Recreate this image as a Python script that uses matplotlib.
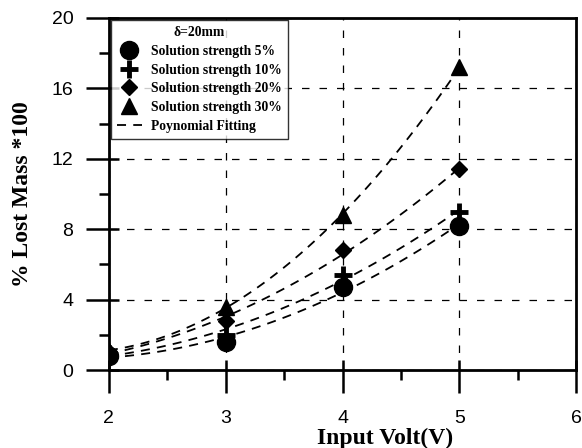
import matplotlib
matplotlib.use("Agg")
import matplotlib.pyplot as plt
from matplotlib.ticker import MultipleLocator, NullLocator
import numpy as np

# input voltage and lost mass for each solution strength
volt = [2, 3, 4, 5]
lost_5 = [0.8, 1.6, 4.7, 8.2]
lost_10 = [0.9, 2.0, 5.4, 9.0]
lost_20 = [1.0, 2.8, 6.8, 11.4]
lost_30 = [1.1, 3.6, 8.8, 17.2]

labels = ["Solution strength 5%", "Solution strength 10%",
          "Solution strength 20%", "Solution strength 30%"]
markers = ["o", "+", "D", "^"]
msizes = [13, 13, 8.5, 11]

serif = "Liberation Serif"
sans = "Liberation Sans"

fig = plt.figure(figsize=(5.82, 4.48), dpi=100)
ax = fig.add_axes([0.187, 0.174, 0.803, 0.786])

xs = np.linspace(2, 5, 100)
for ys, lab, m, s in zip([lost_5, lost_10, lost_20, lost_30], labels, markers, msizes):
    ax.plot(volt, ys, linestyle="none", marker=m, ms=s, mew=3.5 if m == "+" else 1,
            color="black", label=lab, zorder=3)
    # second order polynomial fit through the measured points
    c = np.polyfit(volt, ys, 2)
    ax.plot(xs, np.polyval(c, xs), "--", color="black", lw=1.3, dashes=(5, 4), zorder=2)
ax.plot([], [], "--", color="black", lw=1.3, dashes=(5, 4), label="Poynomial Fitting")

ax.set_xlim(2, 6)
ax.set_ylim(0, 20)
ax.xaxis.set_major_locator(MultipleLocator(1))
ax.xaxis.set_minor_locator(MultipleLocator(0.5))
ax.yaxis.set_major_locator(MultipleLocator(4))
ax.yaxis.set_minor_locator(MultipleLocator(2))
ax.tick_params(which="major", direction="out", length=16.5, width=1.8, labelsize=14)
ax.tick_params(axis="y", which="major", pad=9)
ax.tick_params(axis="x", which="major", pad=12)
ax.tick_params(which="minor", direction="out", length=7.5, width=1.8)
for t in ax.get_xticklabels() + ax.get_yticklabels():
    t.set_fontfamily(sans)

# short inner part of the major ticks
sx = ax.secondary_xaxis("bottom")
sx.set_xticks([2, 3, 4, 5, 6])
sx.xaxis.set_minor_locator(NullLocator())
sx.tick_params(direction="in", length=7.5, width=1.8, labelbottom=False)
sx.spines["bottom"].set_visible(False)
sy = ax.secondary_yaxis("left")
sy.set_yticks([0, 4, 8, 12, 16, 20])
sy.yaxis.set_minor_locator(NullLocator())
sy.tick_params(direction="in", length=7.5, width=1.8, labelleft=False)
sy.spines["left"].set_visible(False)

ax.grid(True, which="major", linestyle=(0, (6, 8)), color="black", lw=0.9)
for sp in ax.spines.values():
    sp.set_linewidth(2)

ax.set_xlabel("Input Volt(V)", fontfamily=serif, fontweight="bold", fontsize=17)
ax.set_ylabel("% Lost Mass *100", fontfamily=serif, fontweight="bold", fontsize=17)
ax.xaxis.set_label_coords(0.59, -0.165)
ax.yaxis.set_label_coords(-0.163, 0.5)

leg = ax.legend(loc="upper left", title="\u03b4=20mm", frameon=True, fancybox=False,
                edgecolor="black", borderaxespad=0.15, handlelength=1.8,
                handletextpad=0.7, labelspacing=0.42, borderpad=0.45,
                prop={"family": serif, "weight": "bold", "size": 9.8})
leg.get_title().set_fontfamily(serif)
leg.get_title().set_fontweight("bold")
leg.get_title().set_fontsize(9.8)
leg.get_frame().set_linewidth(1.0)
leg.set_zorder(5)

fig.savefig("out.png", dpi=100)
